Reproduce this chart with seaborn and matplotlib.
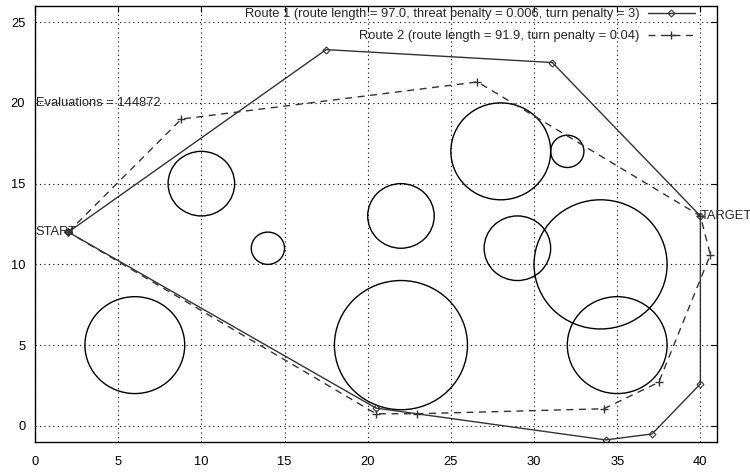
import numpy as np
import pandas as pd
import matplotlib
matplotlib.use("Agg")
import matplotlib.pyplot as plt
from matplotlib.patches import Circle
import seaborn as sns

# threat circles (center x, center y, radius)
threat_x = [10, 14, 6, 22, 22, 28, 32, 29, 34, 35]
threat_y = [15, 11, 5, 13, 5, 17, 17, 11, 10, 5]
threat_r = [2, 1, 3, 2, 4, 3, 1, 2, 4, 3]

# route 1 (solid, diamonds)
route1_x = [2, 17.5, 31.1, 40, 40, 37.1, 34.3, 20.5, 2]
route1_y = [12, 23.3, 22.5, 13, 2.6, -0.5, -0.87, 1.1, 12]

# route 2 (dashed, plus)
route2_x = [2, 8.8, 26.6, 40, 40.6, 37.5, 34.2, 22.95, 20.5, 2]
route2_y = [12, 19.0, 21.3, 13, 10.6, 2.7, 1.06, 0.75, 0.75, 12]

label1 = "Route 1 (route length = 97.0, threat penalty = 0.006, turn penalty = 3)"
label2 = "Route 2 (route length = 91.9, turn penalty = 0.04)"

sns.set_style("white")
plt.rcParams['font.family'] = ['Liberation Sans', 'DejaVu Sans']
fs = 9.3
plt.rcParams['font.size'] = fs

fig = plt.figure(figsize=(7.5, 4.73), dpi=100)
ax = fig.add_axes([0.0467, 0.0655, 0.9093, 0.9218])

# threats
for cx, cy, r in zip(threat_x, threat_y, threat_r):
    ax.add_patch(Circle((cx, cy), r, fill=False, edgecolor='black', lw=1.0))

sns.lineplot(x=route1_x, y=route1_y, sort=False, estimator=None, ax=ax,
             color='#333333', lw=1.0, marker='D', markersize=3.5,
             markerfacecolor='none', markeredgecolor='#333333',
             markeredgewidth=0.8, label=label1)
sns.lineplot(x=route2_x, y=route2_y, sort=False, estimator=None, ax=ax,
             color='#333333', lw=1.0, linestyle=(0, (5, 4)), marker='+',
             markersize=6, markeredgewidth=1.0, markeredgecolor='#333333',
             label=label2)

ax.set_xlim(0, 41)
ax.set_ylim(-1, 26)
ax.set_xticks(np.arange(0, 41, 5))
ax.set_yticks(np.arange(0, 26, 5))

ax.grid(True, color='black', linestyle=(0, (1, 3)), lw=0.8)
ax.tick_params(axis='both', direction='in', length=4, width=0.8,
               top=True, right=True, labelsize=fs, colors='black')
ax.tick_params(axis='x', pad=10)
ax.tick_params(axis='y', pad=7)
for s in ax.spines.values():
    s.set_color('black')
    s.set_linewidth(1.0)

ax.text(0.05, 20, "Evaluations = 144872", ha='left', va='center', fontsize=fs)
ax.text(0.0, 12, "START", ha='left', va='center', fontsize=fs)
ax.text(40, 13, "TARGET", ha='left', va='center', fontsize=fs, clip_on=False)

ax.legend(loc='upper right', bbox_to_anchor=(0.975, 1.0065), frameon=False,
          markerfirst=False, handlelength=3.65, handletextpad=0.62,
          labelspacing=0.75, fontsize=fs, borderaxespad=0.0)

fig.savefig("out.png", dpi=100)
